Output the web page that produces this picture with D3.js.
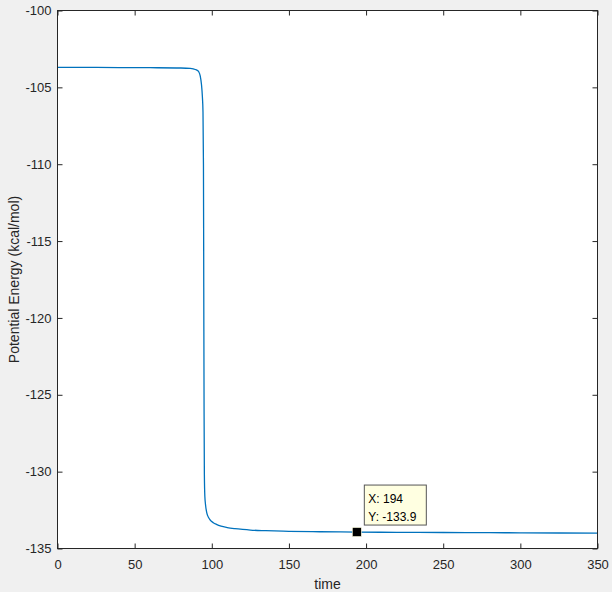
<!DOCTYPE html>
<html>
<head>
<meta charset="utf-8">
<script src="https://cdn.jsdelivr.net/npm/d3@7"></script>
<style>
  html, body { margin: 0; padding: 0; background: #f0f0f0; }
  svg { display: block; }
</style>
</head>
<body>
<svg id="chart" width="612" height="592"></svg>
<script>
// ---- data ----
const timeValues   = [0, 20, 40, 60, 80, 86, 88, 90, 91.5, 92.5, 93.3, 93.9, 94.3, 94.6, 94.8, 95.0, 95.2, 95.5, 96.0, 96.8, 98.0, 99.0, 101, 103, 106, 110, 115, 120, 125, 135, 150, 170, 194, 220, 250, 280, 300, 325, 350];
const energyValues = [-103.70, -103.70, -103.71, -103.72, -103.74, -103.77, -103.80, -103.86, -103.98, -104.25, -104.8, -105.6, -106.6, -110, -118, -126, -130.2, -131.6, -132.2, -132.7, -133.0, -133.15, -133.32, -133.43, -133.55, -133.64, -133.71, -133.76, -133.80, -133.84, -133.88, -133.91, -133.93, -133.95, -133.96, -133.97, -133.98, -133.99, -134.00];
const xTicks = [0, 50, 100, 150, 200, 250, 300, 350];
const yTicks = [-135, -130, -125, -120, -115, -110, -105, -100];
const xDomain = [0, 350];
const yDomain = [-135, -100];
const tipPoint = { x: 194, y: -133.93 };
const tipLabels = ["X: 194", "Y: -133.9"];
const xLabel = "time";
const yLabel = "Potential Energy (kcal/mol)";

// ---- layout ----
const svg = d3.select("#chart");
const L = 57.5, R = 597.5, T = 10.5, B = 548.5;
const axisColor = "#262626";
const font = "'Liberation Sans', Arial, Helvetica, sans-serif";
const fmt = d => String(d);

const x = d3.scaleLinear().domain(xDomain).range([L, R]);
const y = d3.scaleLinear().domain(yDomain).range([B, T]);

// plot background
svg.append("rect").attr("x", L).attr("y", T).attr("width", R - L).attr("height", B - T).attr("fill", "#ffffff");

// clip
svg.append("clipPath").attr("id", "clip").append("rect")
  .attr("x", L).attr("y", T).attr("width", R - L).attr("height", B - T);

// line
const data = timeValues.map((t, i) => ({ t, e: energyValues[i] }));
svg.append("path")
  .datum(data)
  .attr("clip-path", "url(#clip)")
  .attr("fill", "none")
  .attr("stroke", "#0072bd")
  .attr("stroke-width", 1.3)
  .attr("d", d3.line().x(d => x(d.t)).y(d => y(d.e)).curve(d3.curveMonotoneX));

// axes
function styleAxis(g, showText) {
  g.select(".domain").remove();
  g.selectAll(".tick line").attr("stroke", axisColor);
  g.selectAll(".tick text").attr("fill", axisColor).style("font-family", font).style("font-size", "13px");
  if (!showText) g.selectAll(".tick text").remove();
}
svg.append("g").attr("transform", `translate(0,${B})`)
  .call(d3.axisBottom(x).tickValues(xTicks).tickSizeInner(-5).tickSizeOuter(0).tickPadding(11).tickFormat(fmt))
  .call(g => styleAxis(g, true));
svg.append("g").attr("transform", `translate(0,${T})`)
  .call(d3.axisTop(x).tickValues(xTicks).tickSizeInner(-5).tickSizeOuter(0))
  .call(g => styleAxis(g, false));
svg.append("g").attr("transform", `translate(${L},0)`)
  .call(d3.axisLeft(y).tickValues(yTicks).tickSizeInner(-5).tickSizeOuter(0).tickPadding(6).tickFormat(fmt))
  .call(g => styleAxis(g, true));
svg.append("g").attr("transform", `translate(${R},0)`)
  .call(d3.axisRight(y).tickValues(yTicks).tickSizeInner(-5).tickSizeOuter(0))
  .call(g => styleAxis(g, false));

// box
svg.append("rect").attr("x", L).attr("y", T).attr("width", R - L).attr("height", B - T)
  .attr("fill", "none").attr("stroke", axisColor).attr("stroke-width", 1);

// axis labels
svg.append("text").attr("x", (L + R) / 2).attr("y", 589)
  .attr("text-anchor", "middle").attr("fill", axisColor)
  .style("font-family", font).style("font-size", "14px").text(xLabel);
svg.append("text")
  .attr("transform", `translate(19,${(T + B) / 2}) rotate(-90)`)
  .attr("text-anchor", "middle").attr("fill", axisColor)
  .style("font-family", font).style("font-size", "14px").text(yLabel);

// data tip
const px = x(tipPoint.x), py = y(tipPoint.y);
svg.append("rect").attr("x", px - 4.5).attr("y", py - 4.5).attr("width", 9).attr("height", 9)
  .attr("fill", "#000000").attr("stroke", "#ffffe0").attr("stroke-width", 0.6);
const bx = px + 7.5, by = py - 47;
svg.append("rect").attr("x", bx).attr("y", by).attr("width", 62).attr("height", 40)
  .attr("fill", "#ffffe1").attr("stroke", "#555555").attr("stroke-width", 1);
tipLabels.forEach((s, i) => {
  svg.append("text").attr("x", bx + 4).attr("y", by + 18 + i * 17.5)
    .attr("fill", "#000000").style("font-family", font).style("font-size", "12px").text(s);
});
</script>
</body>
</html>
